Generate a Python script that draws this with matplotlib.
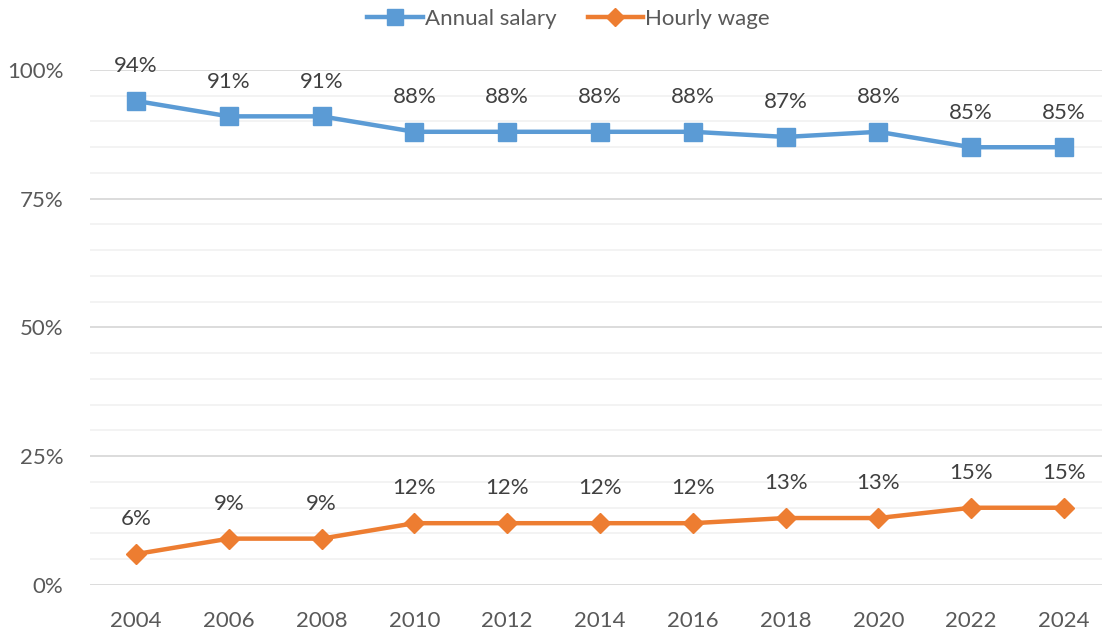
import matplotlib.pyplot as plt
from matplotlib.ticker import MultipleLocator, PercentFormatter

years = ["2004", "2006", "2008", "2010", "2012", "2014", "2016", "2018", "2020", "2022", "2024"]
annual_salary = [94, 91, 91, 88, 88, 88, 88, 87, 88, 85, 85]
hourly_wage = [6, 9, 9, 12, 12, 12, 12, 13, 13, 15, 15]

plt.rcParams['font.family'] = ['Lato', 'DejaVu Sans']
text_color = "#595959"


def main():
    fig = plt.figure(figsize=(11.02, 6.34), dpi=100)
    ax = fig.add_axes([0.0813, 0.0773, 0.9263, 0.8123])
    x = list(range(len(years)))

    ax.plot(x, [v / 100 for v in annual_salary], color="#5B9BD5", lw=3.2,
            marker="s", ms=13, label="Annual salary", zorder=3)
    ax.plot(x, [v / 100 for v in hourly_wage], color="#ED7D31", lw=3.2,
            marker="D", ms=10, label="Hourly wage", zorder=3)

    for xi, v in zip(x, annual_salary):
        ax.annotate(f"{v}%", (xi, v / 100), xytext=(0, 25), textcoords="offset points",
                    ha="center", va="center", fontsize=16, color="#404040")
    for xi, v in zip(x, hourly_wage):
        ax.annotate(f"{v}%", (xi, v / 100), xytext=(0, 25), textcoords="offset points",
                    ha="center", va="center", fontsize=16, color="#404040")

    ax.set_xlim(-0.5, 10.5)
    ax.set_ylim(0, 1)
    ax.set_xticks(x)
    ax.set_xticklabels(years)
    ax.yaxis.set_major_locator(MultipleLocator(0.25))
    ax.yaxis.set_minor_locator(MultipleLocator(0.05))
    ax.yaxis.set_major_formatter(PercentFormatter(1.0, decimals=0))
    ax.grid(which="major", axis="y", color="#D9D9D9", lw=1.3)
    ax.grid(which="minor", axis="y", color="#F2F2F2", lw=1.3)
    ax.set_axisbelow(True)
    ax.tick_params(axis="both", which="both", length=0, labelsize=16, labelcolor=text_color)
    ax.tick_params(axis="x", pad=19)
    ax.tick_params(axis="y", pad=19)
    for s in ax.spines.values():
        s.set_visible(False)

    fig.legend(loc="upper center", bbox_to_anchor=(0.516, 1.017), ncol=2, frameon=False,
               fontsize=16, labelcolor=text_color, handlelength=2.5, handletextpad=0.1,
               columnspacing=1.4, markerscale=0.9)
    fig.savefig("out.png", dpi=100)


if __name__ == "__main__":
    main()
